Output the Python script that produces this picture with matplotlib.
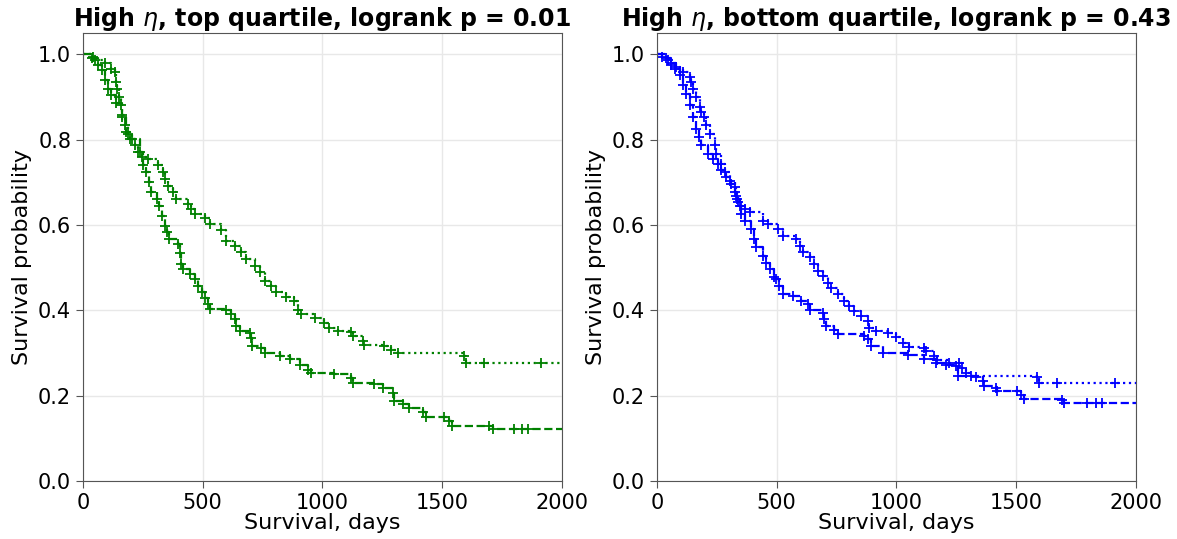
# Kaplan-Meier, high eta: top vs bottom quartile (two panels)
import numpy as np
import matplotlib

matplotlib.use("Agg")
import matplotlib.pyplot as plt

# --- left panel: top quartile (green) ---
top_dot_t = [0, 43, 50, 92, 119, 133, 137, 143, 151, 157, 165, 175, 189, 203, 217, 231, 245, 272,
             314, 335, 342, 356, 376, 390, 439, 453, 467, 508, 529, 578, 599, 633, 661, 682, 717,
             738, 758, 786, 807, 849, 883, 897, 911, 967, 1008, 1029, 1064, 1120, 1126, 1168, 1175,
             1258, 1286, 1314, 1592, 1599]
top_dot_s = [1.0, 0.994, 0.987, 0.979, 0.967, 0.959, 0.936, 0.920, 0.900, 0.881, 0.857, 0.834, 0.814,
             0.802, 0.787, 0.771, 0.759, 0.755, 0.740, 0.724, 0.708, 0.692, 0.677, 0.661, 0.649, 0.638,
             0.626, 0.616, 0.602, 0.589, 0.563, 0.551, 0.536, 0.520, 0.504, 0.489, 0.469, 0.456, 0.442,
             0.432, 0.422, 0.402, 0.391, 0.383, 0.371, 0.359, 0.351, 0.349, 0.340, 0.328, 0.318, 0.316,
             0.308, 0.299, 0.292, 0.276]
top_dot_cens = [1675, 1911]

top_dash_t = [0, 36, 64, 78, 92, 106, 119, 137, 161, 179, 196, 238, 251, 265, 276, 286, 307, 318, 328,
              342, 351, 360, 397, 404, 411, 418, 446, 467, 481, 495, 508, 522, 529, 599, 620, 633, 640,
              654, 696, 703, 707, 745, 758, 821, 863, 904, 939, 953, 1050, 1120, 1126, 1217, 1251, 1293,
              1300, 1335, 1363, 1418, 1432, 1508, 1529, 1541, 1696, 1710]
top_dash_s = [1.0, 0.991, 0.975, 0.963, 0.940, 0.920, 0.904, 0.885, 0.853, 0.818, 0.802, 0.771, 0.740,
              0.724, 0.700, 0.677, 0.661, 0.645, 0.622, 0.598, 0.583, 0.567, 0.555, 0.534, 0.508, 0.496,
              0.485, 0.473, 0.457, 0.442, 0.430, 0.414, 0.404, 0.402, 0.391, 0.379, 0.363, 0.351, 0.348,
              0.336, 0.316, 0.312, 0.299, 0.294, 0.285, 0.273, 0.261, 0.253, 0.252, 0.242, 0.230, 0.228,
              0.218, 0.206, 0.187, 0.181, 0.171, 0.162, 0.151, 0.151, 0.140, 0.129, 0.128, 0.122]
top_dash_cens = [1800, 1835, 1856]

# --- right panel: bottom quartile (blue) ---
bot_dot_t = [0, 20, 45, 60, 75, 110, 137, 145, 151, 165, 179, 186, 196, 207, 221, 242, 249, 270, 283,
             304, 325, 332, 339, 353, 367, 388, 443, 464, 506, 526, 582, 596, 610, 638, 658, 672, 693,
             714, 728, 755, 783, 804, 825, 853, 881, 888, 916, 964, 999, 1026, 1054, 1117, 1124, 1158,
             1172, 1221, 1263, 1276, 1290, 1311, 1589, 1596]
bot_dot_s = [1.0, 0.995, 0.987, 0.975, 0.967, 0.959, 0.948, 0.936, 0.920, 0.900, 0.877, 0.865, 0.853,
             0.834, 0.814, 0.787, 0.767, 0.744, 0.724, 0.704, 0.689, 0.669, 0.653, 0.645, 0.638, 0.630,
             0.610, 0.602, 0.591, 0.575, 0.567, 0.551, 0.536, 0.524, 0.508, 0.492, 0.481, 0.465, 0.453,
             0.438, 0.422, 0.410, 0.398, 0.387, 0.375, 0.359, 0.351, 0.348, 0.338, 0.324, 0.315, 0.312,
             0.304, 0.292, 0.283, 0.277, 0.277, 0.265, 0.253, 0.245, 0.244, 0.230]
bot_dot_cens = [1672, 1915]

bot_dash_t = [0, 40, 61, 82, 96, 110, 124, 137, 151, 165, 176, 186, 214, 235, 256, 270, 290, 311, 325,
              335, 346, 353, 367, 395, 404, 413, 443, 457, 471, 488, 499, 512, 526, 568, 603, 630, 638,
              693, 700, 707, 742, 755, 867, 881, 895, 943, 1047, 1117, 1165, 1207, 1249, 1256, 1332,
              1360, 1367, 1416, 1422, 1506, 1520, 1533, 1693, 1700]
bot_dash_s = [1.0, 0.991, 0.979, 0.971, 0.951, 0.928, 0.908, 0.881, 0.853, 0.826, 0.806, 0.787, 0.767,
              0.755, 0.744, 0.728, 0.712, 0.696, 0.677, 0.661, 0.645, 0.626, 0.610, 0.591, 0.567, 0.548,
              0.528, 0.512, 0.496, 0.479, 0.473, 0.457, 0.439, 0.434, 0.422, 0.414, 0.402, 0.395, 0.379,
              0.363, 0.355, 0.344, 0.341, 0.332, 0.316, 0.299, 0.296, 0.285, 0.277, 0.273, 0.269, 0.245,
              0.244, 0.234, 0.222, 0.218, 0.212, 0.210, 0.202, 0.192, 0.191, 0.183]
bot_dash_cens = [1797, 1832, 1860]

FOLLOWUP_END = 2000
titles = ["High $\\eta$, top quartile, logrank p = 0.01",
          "High $\\eta$, bottom quartile, logrank p = 0.43"]
x_ticks = [0, 500, 1000, 1500, 2000]
y_ticks = [0.0, 0.2, 0.4, 0.6, 0.8, 1.0]


def step_value(t, s, x):
    idx = np.searchsorted(t, x, side="right") - 1
    return np.asarray(s)[idx]


def km_curve(ax, t, s, cens, color, ls):
    t = np.asarray(t, dtype=float)
    s = np.asarray(s, dtype=float)
    ax.step(np.append(t, FOLLOWUP_END), np.append(s, s[-1]), where="post",
            color=color, ls=ls, lw=1.6)
    ax.plot(t[1:], s[1:], "+", color=color, ms=7, mew=1.3)
    ax.plot(cens, step_value(t, s, cens), "+", color=color, ms=7, mew=1.3)


fig = plt.figure(figsize=(11.77, 5.39), dpi=100)
ax1 = fig.add_axes([0.0705, 0.1076, 0.407, 0.831])
ax2 = fig.add_axes([0.558, 0.1076, 0.407, 0.831])

km_curve(ax1, top_dot_t, top_dot_s, top_dot_cens, "green", ":")
km_curve(ax1, top_dash_t, top_dash_s, top_dash_cens, "green", "--")
km_curve(ax2, bot_dot_t, bot_dot_s, bot_dot_cens, "blue", ":")
km_curve(ax2, bot_dash_t, bot_dash_s, bot_dash_cens, "blue", "--")

for ax, title in zip([ax1, ax2], titles):
    ax.set_xlim(0, FOLLOWUP_END)
    ax.set_ylim(0, 1.05)
    ax.set_xticks(x_ticks)
    ax.set_yticks(y_ticks)
    ax.tick_params(labelsize=15, color="#555555", length=5)
    ax.set_xlabel("Survival, days", fontsize=16, labelpad=0)
    ax.set_ylabel("Survival probability", fontsize=16)
    ax.set_title(title, fontsize=17, fontweight="bold", pad=3)
    ax.grid(color="#e8e8e8", lw=1)
    ax.set_axisbelow(True)
    for spine in ax.spines.values():
        spine.set_color("#555555")

fig.savefig("out.png", dpi=100)
